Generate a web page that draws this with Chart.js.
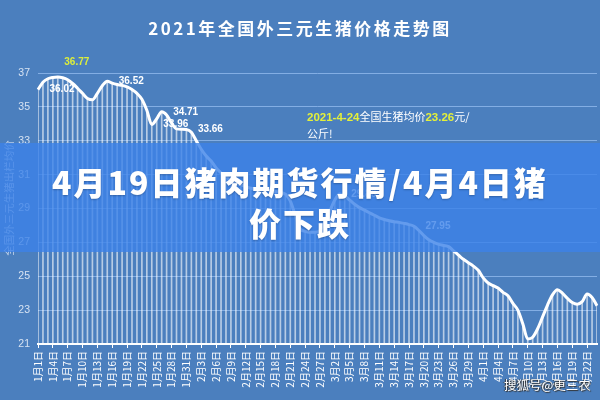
<!DOCTYPE html>
<html><head><meta charset="utf-8">
<script src="https://cdn.jsdelivr.net/npm/chart.js@4"></script>
<style>
html,body{margin:0;padding:0;background:#4b7fbe;}
#wrap{position:relative;width:600px;height:400px;overflow:hidden;background:#4b7fbe;font-family:"Noto Sans CJK SC","Noto Sans",sans-serif;}
#c{position:absolute;left:0;top:0;}
.title{position:absolute;left:0;top:16px;width:600px;text-align:center;color:#fff;font-size:17px;font-weight:700;letter-spacing:2.5px;line-height:24px;}
.note{position:absolute;left:307px;top:108px;color:#fff;font-size:11px;line-height:16px;}
.note b{color:#e4f03a;font-family:"Liberation Sans",sans-serif;font-weight:700;font-size:11.5px;}
.ytitle{position:absolute;left:-71px;top:191px;width:160px;height:14px;line-height:14px;text-align:center;color:#c9d8ee;font-size:10.5px;transform:rotate(-90deg);transform-origin:50% 50%;}
.banner{position:absolute;left:0;top:143px;width:600px;height:109px;background:rgba(60,130,232,0.8);}
.btext{position:absolute;left:0;top:161px;width:600px;text-align:center;color:#fff;font-size:32px;font-weight:900;line-height:41px;letter-spacing:2px;text-shadow:0 1px 2px rgba(0,0,0,0.25);}
.wm{position:absolute;left:504px;top:376px;color:#fff;font-size:12.5px;line-height:18px;text-shadow:1px 1px 1px #333,-1px 0 1px #333;}
</style>
</head><body>
<div id="wrap">
<canvas id="c" width="600" height="400"></canvas>
<div class="title">2021年全国外三元生猪价格走势图</div>
<div class="note"><b>2021-4-24</b>全国生猪均价<b>23.26</b>元/<br>公斤!</div>
<div class="ytitle">全国外三元生猪出栏均价</div>
<div class="banner"></div>
<div class="btext">4月19日猪肉期货行情/4月4日猪<br>价下跌</div>
<div class="wm">搜狐号@更三农</div>
</div>
<script>
const days = [
 "1月1日","1月2日","1月3日","1月4日","1月5日","1月6日","1月7日","1月8日","1月9日","1月10日",
 "1月11日","1月12日","1月13日","1月14日","1月15日","1月16日","1月17日","1月18日","1月19日","1月20日",
 "1月21日","1月22日","1月23日","1月24日","1月25日","1月26日","1月27日","1月28日","1月29日","1月30日","1月31日",
 "2月1日","2月2日","2月3日","2月4日","2月5日","2月6日","2月7日","2月8日","2月9日","2月10日",
 "2月11日","2月12日","2月13日","2月14日","2月15日","2月16日","2月17日","2月18日","2月19日","2月20日",
 "2月21日","2月22日","2月23日","2月24日","2月25日","2月26日","2月27日","2月28日",
 "3月1日","3月2日","3月3日","3月4日","3月5日","3月6日","3月7日","3月8日","3月9日","3月10日",
 "3月11日","3月12日","3月13日","3月14日","3月15日","3月16日","3月17日","3月18日","3月19日","3月20日",
 "3月21日","3月22日","3月23日","3月24日","3月25日","3月26日","3月27日","3月28日","3月29日","3月30日","3月31日",
 "4月1日","4月2日","4月3日","4月4日","4月5日","4月6日","4月7日","4月8日","4月9日","4月10日",
 "4月11日","4月12日","4月13日","4月14日","4月15日","4月16日","4月17日","4月18日","4月19日","4月20日",
 "4月21日","4月22日","4月23日","4月24日"
];
const prices = [
 36.02,36.45,36.66,36.74,36.77,36.72,36.60,36.38,36.10,35.80,
 35.50,35.42,35.80,36.25,36.52,36.40,36.32,36.27,36.18,36.02,
 35.80,35.45,34.80,33.96,34.30,34.71,34.52,34.05,33.70,33.68,33.66,
 33.50,33.00,32.50,32.10,31.80,31.40,31.10,30.85,30.65,30.50,
 30.40,30.30,30.20,30.15,30.10,30.10,30.05,30.00,29.95,29.85,
 29.45,28.60,27.80,27.65,27.60,27.60,27.70,28.20,
 28.85,29.50,29.86,29.75,29.50,29.25,29.05,28.90,28.75,28.60,
 28.45,28.35,28.28,28.22,28.18,28.12,28.05,27.95,27.70,27.40,
 27.15,27.00,26.88,26.82,26.75,26.50,26.25,26.00,25.80,25.60,25.35,
 24.90,24.60,24.45,24.30,24.05,23.85,23.40,23.00,22.20,21.30,
 21.40,21.90,22.60,23.30,23.90,24.20,24.00,23.70,23.45,23.35,
 23.50,23.95,23.75,23.26
];
const yTicks = [21,23,25,27,29,31,33,35,37];
const labelledDays = [0,4,14,23,25,30,61,76];
const highlightDay = 4;

const pointLabels = {
  id:'pointLabels',
  afterDatasetsDraw(chart){
    const meta = chart.getDatasetMeta(0);
    const c = chart.ctx;
    c.save();
    c.font = 'bold 10px "Liberation Sans", Arial, sans-serif';
    c.textAlign = 'center';
    c.textBaseline = 'middle';
    labelledDays.forEach(i=>{
      const p = meta.data[i];
      const hi = i === highlightDay;
      const dx = hi ? 19 : 24, dy = hi ? -15 : 0;
      c.fillStyle = hi ? '#dcee3c' : '#ffffff';
      c.fillText(prices[i].toFixed(2), p.x + dx, p.y + dy);
    });
    c.restore();
  }
};

new Chart(document.getElementById('c'), {
  type:'bar',
  data:{
    labels: days,
    datasets:[
      {type:'line', data: prices, borderColor:'#ffffff', borderWidth:3, pointRadius:0, tension:0.4, cubicInterpolationMode:'monotone', fill:false, order:1},
      {type:'bar', data: prices, backgroundColor:'rgba(255,255,255,0.6)', barThickness:1, order:2}
    ]
  },
  options:{
    responsive:false, animation:false, devicePixelRatio:1,
    layout:{padding:{top:73,right:3,left:0,bottom:0}},
    plugins:{legend:{display:false}, tooltip:{enabled:false}, title:{display:false}},
    scales:{
      x:{
        offset:false,
        grid:{offset:false, display:true, drawOnChartArea:false, drawTicks:true, tickLength:4, tickWidth:1,
              tickColor: ctx => (ctx.index % 3 === 0 ? '#ffffff' : 'rgba(0,0,0,0)')},
        border:{display:true, color:'#ffffff', width:2},
        ticks:{autoSkip:false, minRotation:90, maxRotation:90, padding:3, color:'#ffffff',
               font:{size:10, family:'"Noto Sans CJK SC", sans-serif'},
               callback:(v,i)=> (i % 3 === 0 ? days[i] : '')},
        afterFit: s => { s.height = 56; s.paddingLeft = 0; s.paddingRight = 0; }
      },
      y:{
        min:21, max:37,
        afterBuildTicks: s => { s.ticks = yTicks.map(v=>({value:v})); },
        ticks:{color:'#d6e2f2', padding:8, font:{size:10.5, family:'"Liberation Sans", Arial, sans-serif'}},
        grid:{color:'rgba(150,190,240,0.75)', drawTicks:false, lineWidth:1},
        border:{display:false},
        afterFit: s => { s.width = 38; s.paddingTop = 0; s.paddingBottom = 0; }
      }
    }
  },
  plugins:[pointLabels]
});
</script>
</body></html>
